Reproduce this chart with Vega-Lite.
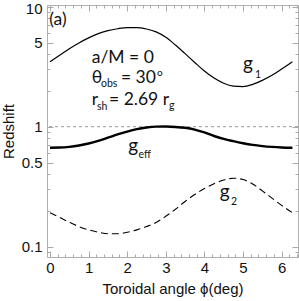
{
  "$schema": "https://vega.github.io/schema/vega-lite/v6.json",
  "width": 251,
  "height": 252,
  "autosize": {"type": "none"},
  "padding": {"left": 47, "top": 5, "right": 1, "bottom": 44},
  "background": "white",
  "config": {"view": {"stroke": "#b0b0b0", "strokeWidth": 1}},
  "datasets": {
    "curves": [
      {"phi": 0, "g": 3.48, "s": "g1"}, {"phi": 0.25, "g": 3.94, "s": "g1"}, {"phi": 0.5, "g": 4.47, "s": "g1"}, {"phi": 0.75, "g": 4.99, "s": "g1"}, {"phi": 1.0, "g": 5.5, "s": "g1"}, {"phi": 1.25, "g": 5.97, "s": "g1"}, {"phi": 1.5, "g": 6.31, "s": "g1"}, {"phi": 1.75, "g": 6.55, "s": "g1"}, {"phi": 2.0, "g": 6.7, "s": "g1"}, {"phi": 2.25, "g": 6.7, "s": "g1"}, {"phi": 2.5, "g": 6.52, "s": "g1"}, {"phi": 2.75, "g": 6.17, "s": "g1"}, {"phi": 3.0, "g": 5.56, "s": "g1"}, {"phi": 3.25, "g": 4.79, "s": "g1"}, {"phi": 3.5, "g": 4.06, "s": "g1"}, {"phi": 3.75, "g": 3.43, "s": "g1"}, {"phi": 4.0, "g": 2.91, "s": "g1"}, {"phi": 4.25, "g": 2.54, "s": "g1"}, {"phi": 4.5, "g": 2.3, "s": "g1"}, {"phi": 4.75, "g": 2.18, "s": "g1"}, {"phi": 5.0, "g": 2.16, "s": "g1"}, {"phi": 5.25, "g": 2.25, "s": "g1"}, {"phi": 5.5, "g": 2.43, "s": "g1"}, {"phi": 5.75, "g": 2.68, "s": "g1"}, {"phi": 6.0, "g": 3.02, "s": "g1"}, {"phi": 6.28, "g": 3.48, "s": "g1"},
      {"phi": 0, "g": 0.668, "s": "geff"}, {"phi": 0.25, "g": 0.67, "s": "geff"}, {"phi": 0.5, "g": 0.679, "s": "geff"}, {"phi": 0.75, "g": 0.697, "s": "geff"}, {"phi": 1.0, "g": 0.724, "s": "geff"}, {"phi": 1.25, "g": 0.762, "s": "geff"}, {"phi": 1.5, "g": 0.809, "s": "geff"}, {"phi": 1.75, "g": 0.861, "s": "geff"}, {"phi": 2.0, "g": 0.91, "s": "geff"}, {"phi": 2.25, "g": 0.953, "s": "geff"}, {"phi": 2.5, "g": 0.984, "s": "geff"}, {"phi": 2.75, "g": 1.0, "s": "geff"}, {"phi": 3.0, "g": 1.002, "s": "geff"}, {"phi": 3.25, "g": 0.995, "s": "geff"}, {"phi": 3.5, "g": 0.979, "s": "geff"}, {"phi": 3.75, "g": 0.946, "s": "geff"}, {"phi": 4.0, "g": 0.895, "s": "geff"}, {"phi": 4.25, "g": 0.836, "s": "geff"}, {"phi": 4.5, "g": 0.791, "s": "geff"}, {"phi": 4.75, "g": 0.757, "s": "geff"}, {"phi": 5.0, "g": 0.728, "s": "geff"}, {"phi": 5.25, "g": 0.705, "s": "geff"}, {"phi": 5.5, "g": 0.689, "s": "geff"}, {"phi": 5.75, "g": 0.678, "s": "geff"}, {"phi": 6.0, "g": 0.671, "s": "geff"}, {"phi": 6.28, "g": 0.668, "s": "geff"},
      {"phi": 0, "g": 0.192, "s": "g2"}, {"phi": 0.25, "g": 0.175, "s": "g2"}, {"phi": 0.5, "g": 0.16, "s": "g2"}, {"phi": 0.75, "g": 0.147, "s": "g2"}, {"phi": 1.0, "g": 0.138, "s": "g2"}, {"phi": 1.25, "g": 0.132, "s": "g2"}, {"phi": 1.5, "g": 0.128, "s": "g2"}, {"phi": 1.75, "g": 0.128, "s": "g2"}, {"phi": 2.0, "g": 0.132, "s": "g2"}, {"phi": 2.25, "g": 0.138, "s": "g2"}, {"phi": 2.5, "g": 0.147, "s": "g2"}, {"phi": 2.75, "g": 0.159, "s": "g2"}, {"phi": 3.0, "g": 0.179, "s": "g2"}, {"phi": 3.25, "g": 0.205, "s": "g2"}, {"phi": 3.5, "g": 0.238, "s": "g2"}, {"phi": 3.75, "g": 0.272, "s": "g2"}, {"phi": 4.0, "g": 0.305, "s": "g2"}, {"phi": 4.25, "g": 0.335, "s": "g2"}, {"phi": 4.5, "g": 0.359, "s": "g2"}, {"phi": 4.75, "g": 0.372, "s": "g2"}, {"phi": 5.0, "g": 0.363, "s": "g2"}, {"phi": 5.25, "g": 0.333, "s": "g2"}, {"phi": 5.5, "g": 0.292, "s": "g2"}, {"phi": 5.75, "g": 0.254, "s": "g2"}, {"phi": 6.0, "g": 0.221, "s": "g2"}, {"phi": 6.28, "g": 0.192, "s": "g2"}
    ],
    "bigText": [
      {"tx": -0.02, "ty": 7.03, "t": "(a)"},
      {"tx": 1.08, "ty": 3.37, "t": "a/M = 0"},
      {"tx": 1.08, "ty": 2.3, "t": "θ"},
      {"tx": 1.839, "ty": 2.3, "t": "= 30"},
      {"tx": 1.08, "ty": 1.52, "t": "r"},
      {"tx": 1.53, "ty": 1.52, "t": "= 2.69 r"}
    ],
    "subText": [
      {"tx": 1.321, "ty": 2.14, "t": "obs"},
      {"tx": 1.218, "ty": 1.377, "t": "sh"},
      {"tx": 3.08, "ty": 1.4, "t": "g"},
      {"tx": 2.29, "ty": 0.548, "t": "eff"},
      {"tx": 5.31, "ty": 2.55, "t": "1"},
      {"tx": 4.69, "ty": 0.222, "t": "2"}
    ],
    "supText": [{"tx": 2.77, "ty": 2.62, "t": "o"}],
    "curveLabels": [
      {"tx": 5.0, "ty": 2.97, "t": "g"},
      {"tx": 2.03, "ty": 0.615, "t": "g"},
      {"tx": 4.4, "ty": 0.2547, "t": "g"}
    ],
    "ref": [{"v": 1}]
  },
  "resolve": {"axis": {"x": "independent", "y": "independent"}},
  "layer": [
    {
      "data": {"name": "ref"},
      "mark": {"type": "rule", "color": "#9a9a9a", "strokeWidth": 1, "strokeDash": [3, 3]},
      "encoding": {
        "y": {"field": "v", "type": "quantitative", "scale": {"type": "log", "domain": [0.082, 10.33], "nice": false}, "axis": null}
      }
    },
    {
      "data": {"name": "curves"},
      "transform": [{"filter": "datum.s === 'g1'"}],
      "mark": {"type": "line", "color": "black", "interpolate": "monotone", "strokeWidth": 1.2},
      "encoding": {
        "x": {"field": "phi", "type": "quantitative", "scale": {"domain": [-0.078, 6.425], "nice": false, "zero": false},
          "axis": {"orient": "bottom", "values": [0, 1, 2, 3, 4, 5, 6], "ticks": false, "domain": false, "grid": false, "labelPadding": 3, "labelFontSize": 15, "labelFont": "Liberation Sans", "labelColor": "#111", "title": "Toroidal angle ϕ(deg)", "titleFontSize": 15, "titleFont": "Liberation Sans", "titleFontWeight": "normal", "titleColor": "#111", "titlePadding": 6}},
        "y": {"field": "g", "type": "quantitative", "scale": {"type": "log", "domain": [0.082, 10.33], "nice": false},
          "axis": {"orient": "left", "values": [0.1, 0.5, 1, 5, 10], "format": "~g", "ticks": false, "domain": false, "grid": false, "labelPadding": 5, "labelFontSize": 15, "labelFont": "Liberation Sans", "labelColor": "#111", "labelOffset": {"condition": {"test": "datum.value === 10", "value": 2}, "value": 0}, "title": "Redshift", "titleFontSize": 15, "titleFont": "Liberation Sans", "titleFontWeight": "normal", "titleColor": "#111", "titlePadding": 5}}
      }
    },
    {
      "data": {"name": "curves"},
      "transform": [{"filter": "datum.s === 'geff'"}],
      "mark": {"type": "line", "color": "black", "interpolate": "monotone", "strokeWidth": 2.4},
      "encoding": {
        "x": {"field": "phi", "type": "quantitative", "axis": null},
        "y": {"field": "g", "type": "quantitative", "axis": null}
      }
    },
    {
      "data": {"name": "curves"},
      "transform": [{"filter": "datum.s === 'g2'"}],
      "mark": {"type": "line", "color": "black", "interpolate": "monotone", "strokeWidth": 1.1, "strokeDash": [7, 4]},
      "encoding": {
        "x": {"field": "phi", "type": "quantitative", "axis": null},
        "y": {"field": "g", "type": "quantitative", "axis": null}
      }
    },
    {
      "data": {"name": "bigText"},
      "mark": {"type": "text", "align": "left", "baseline": "alphabetic", "font": "Lato", "fontSize": 17.5, "color": "#111"},
      "encoding": {
        "x": {"field": "tx", "type": "quantitative",
          "axis": {"orient": "bottom", "values": [0, 0.2, 0.4, 0.6, 0.8, 1, 1.2, 1.4, 1.6, 1.8, 2, 2.2, 2.4, 2.6, 2.8, 3, 3.2, 3.4, 3.6, 3.8, 4, 4.2, 4.4, 4.6, 4.8, 5, 5.2, 5.4, 5.6, 5.8, 6, 6.2, 6.4], "labels": false, "domain": false, "grid": false, "title": null, "tickColor": "#aaaaaa", "tickSize": {"condition": {"test": "datum.value % 1 === 0", "value": -6}, "value": -3}}},
        "y": {"field": "ty", "type": "quantitative",
          "axis": {"orient": "left", "values": [0.09, 0.1, 0.2, 0.3, 0.4, 0.5, 0.6, 0.7, 0.8, 0.9, 1, 2, 3, 4, 5, 6, 7, 8, 9, 10], "labels": false, "domain": false, "grid": false, "title": null, "tickColor": "#aaaaaa", "tickSize": {"condition": {"test": "indexof([0.1, 0.5, 1, 5, 10], datum.value) >= 0", "value": -6}, "value": -3}}},
        "text": {"field": "t", "type": "nominal"}
      }
    },
    {
      "data": {"name": "subText"},
      "mark": {"type": "text", "align": "left", "baseline": "alphabetic", "font": "Lato", "fontSize": 10.5, "color": "#111"},
      "encoding": {
        "x": {"field": "tx", "type": "quantitative",
          "axis": {"orient": "top", "values": [0, 0.2, 0.4, 0.6, 0.8, 1, 1.2, 1.4, 1.6, 1.8, 2, 2.2, 2.4, 2.6, 2.8, 3, 3.2, 3.4, 3.6, 3.8, 4, 4.2, 4.4, 4.6, 4.8, 5, 5.2, 5.4, 5.6, 5.8, 6, 6.2, 6.4], "labels": false, "domain": false, "grid": false, "title": null, "tickColor": "#aaaaaa", "tickSize": {"condition": {"test": "datum.value % 1 === 0", "value": -6}, "value": -3}}},
        "y": {"field": "ty", "type": "quantitative",
          "axis": {"orient": "right", "values": [0.09, 0.1, 0.2, 0.3, 0.4, 0.5, 0.6, 0.7, 0.8, 0.9, 1, 2, 3, 4, 5, 6, 7, 8, 9, 10], "labels": false, "domain": false, "grid": false, "title": null, "tickColor": "#aaaaaa", "tickSize": {"condition": {"test": "indexof([0.1, 0.5, 1, 5, 10], datum.value) >= 0", "value": -6}, "value": -3}}},
        "text": {"field": "t", "type": "nominal"}
      }
    },
    {
      "data": {"name": "supText"},
      "mark": {"type": "text", "align": "left", "baseline": "alphabetic", "font": "Lato", "fontSize": 10, "color": "#111"},
      "encoding": {
        "x": {"field": "tx", "type": "quantitative", "axis": null},
        "y": {"field": "ty", "type": "quantitative", "axis": null},
        "text": {"field": "t", "type": "nominal"}
      }
    },
    {
      "data": {"name": "curveLabels"},
      "mark": {"type": "text", "align": "left", "baseline": "alphabetic", "font": "Lato", "fontSize": 19, "color": "#111"},
      "encoding": {
        "x": {"field": "tx", "type": "quantitative", "axis": null},
        "y": {"field": "ty", "type": "quantitative", "axis": null},
        "text": {"field": "t", "type": "nominal"}
      }
    }
  ]
}
